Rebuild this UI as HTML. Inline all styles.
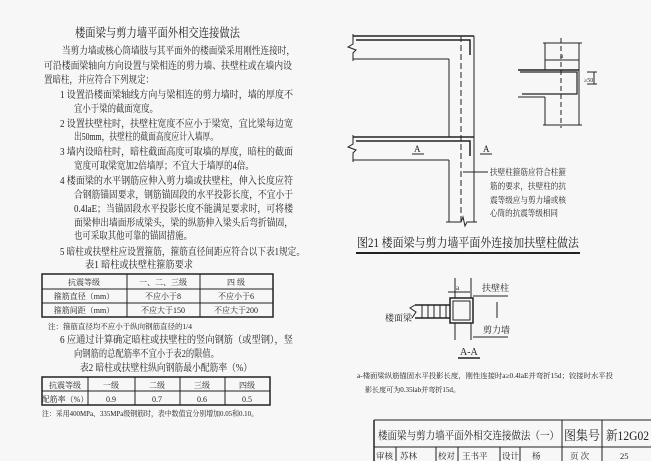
<!DOCTYPE html>
<html><head><meta charset="utf-8"><style>
html,body{margin:0;padding:0;background:#f7f7f7;}
svg{display:block;font-family:"Liberation Serif","Noto Serif CJK SC","Noto Sans CJK SC",serif;}
</style></head><body>
<svg width="651" height="461" viewBox="0 0 651 461" xmlns="http://www.w3.org/2000/svg">
<rect width="651" height="461" fill="#f7f7f7"/>
<g fill="#222" font-size="10" lengthAdjust="spacingAndGlyphs">
<text x="75" y="37" font-size="12.5" textLength="165" lengthAdjust="spacingAndGlyphs">楼面梁与剪力墙平面外相交连接做法</text>
<text x="62" y="54" textLength="233" lengthAdjust="spacingAndGlyphs">当剪力墙或核心筒墙肢与其平面外的楼面梁采用刚性连接时，</text>
<text x="44" y="69" textLength="248" lengthAdjust="spacingAndGlyphs">可沿楼面梁轴向方向设置与梁相连的剪力墙、扶壁柱或在墙内设</text>
<text x="44" y="83" textLength="110" lengthAdjust="spacingAndGlyphs">置暗柱，并应符合下列规定：</text>
<text x="60" y="98" textLength="233" lengthAdjust="spacingAndGlyphs">1  设置沿楼面梁轴线方向与梁相连的剪力墙时，墙的厚度不</text>
<text x="74" y="112" textLength="84" lengthAdjust="spacingAndGlyphs">宜小于梁的截面宽度。</text>
<text x="60" y="127" textLength="233" lengthAdjust="spacingAndGlyphs">2  设置扶壁柱时，扶壁柱宽度不应小于梁宽，宜比梁每边宽</text>
<text x="74" y="140" textLength="144" lengthAdjust="spacingAndGlyphs">出50mm，扶壁柱的截面高度应计入墙厚。</text>
<text x="60" y="155" textLength="233" lengthAdjust="spacingAndGlyphs">3  墙内设暗柱时，暗柱截面高度可取墙的厚度，暗柱的截面</text>
<text x="74" y="169" textLength="180" lengthAdjust="spacingAndGlyphs">宽度可取梁宽加2倍墙厚；不宜大于墙厚的4倍。</text>
<text x="60" y="184" textLength="233" lengthAdjust="spacingAndGlyphs">4  楼面梁的水平钢筋应伸入剪力墙或扶壁柱，伸入长度应符</text>
<text x="74" y="198" textLength="219" lengthAdjust="spacingAndGlyphs">合钢筋锚固要求，钢筋锚固段的水平投影长度，不宜小于</text>
<text x="74" y="212" textLength="219" lengthAdjust="spacingAndGlyphs">0.4laE；当锚固段水平投影长度不能满足要求时，可将楼</text>
<text x="74" y="226" textLength="219" lengthAdjust="spacingAndGlyphs">面梁伸出墙面形成梁头，梁的纵筋伸入梁头后弯折锚固，</text>
<text x="74" y="239" textLength="118" lengthAdjust="spacingAndGlyphs">也可采取其他可靠的锚固措施。</text>
<text x="60" y="255" textLength="245" lengthAdjust="spacingAndGlyphs">5  暗柱或扶壁柱应设置箍筋，箍筋直径间距应符合以下表1规定。</text>
<text x="85" y="268" textLength="108" lengthAdjust="spacingAndGlyphs">表1  暗柱或扶壁柱箍筋要求</text>
</g>
<g stroke="#222" fill="none">
<rect x="42" y="274" width="231" height="43" stroke-width="1.5"/>
<line x1="42" y1="289" x2="273" y2="289"/><line x1="42" y1="303" x2="273" y2="303"/>
<line x1="127" y1="274" x2="127" y2="317"/><line x1="200" y1="274" x2="200" y2="317"/>
<rect x="42" y="377" width="228" height="28" stroke-width="1.5"/>
<line x1="42" y1="391" x2="270" y2="391"/>
<line x1="88" y1="377" x2="88" y2="405"/><line x1="135" y1="377" x2="135" y2="405"/><line x1="180" y1="377" x2="180" y2="405"/><line x1="225" y1="377" x2="225" y2="405"/>
</g>
<g fill="#222" font-size="8" text-anchor="middle">
<text x="84" y="285">抗震等级</text><text x="163" y="285">一、二、三级</text><text x="236" y="285">四 级</text>
<text x="84" y="299">箍筋直径（mm）</text><text x="163" y="299">不应小于8</text><text x="236" y="299">不应小于6</text>
<text x="84" y="313">箍筋间距（mm）</text><text x="163" y="313">不应大于150</text><text x="236" y="313">不应大于200</text>
<text x="65" y="388">抗震等级</text><text x="111" y="388">一级</text><text x="157" y="388">二级</text><text x="202" y="388">三级</text><text x="247" y="388">四级</text>
<text x="65" y="402">配筋率（%）</text><text x="111" y="402">0.9</text><text x="157" y="402">0.7</text><text x="202" y="402">0.6</text><text x="247" y="402">0.5</text>
</g>
<g fill="#222" font-size="10">
<text x="48" y="329" font-size="7.5" textLength="144" lengthAdjust="spacingAndGlyphs">注：箍筋直径均不应小于纵向钢筋直径的1/4</text>
<text x="60" y="343" textLength="233" lengthAdjust="spacingAndGlyphs">6  应通过计算确定暗柱或扶壁柱的竖向钢筋（或型钢），竖</text>
<text x="74" y="357" textLength="145" lengthAdjust="spacingAndGlyphs">向钢筋的总配筋率不宜小于表2的限值。</text>
<text x="80" y="371" textLength="172" lengthAdjust="spacingAndGlyphs">表2  暗柱或扶壁柱纵向钢筋最小配筋率（%）</text>
<text x="42" y="416" font-size="7.5" textLength="216" lengthAdjust="spacingAndGlyphs">注：采用400MPa、335MPa级钢筋时，表中数值宜分别增加0.05和0.10。</text>
</g>
<!-- Figure 21 -->
<g stroke="#222" fill="none" stroke-width="1">
<line x1="353" y1="36" x2="474" y2="36" stroke-width="1.5"/>
<line x1="353" y1="59" x2="449" y2="59"/>
<polyline points="353,34 353,44 348,47 356,50 353,53 353,61"/>
<line x1="449" y1="59" x2="449" y2="137"/>
<line x1="474" y1="36" x2="474" y2="222"/>
<line x1="353" y1="137" x2="474" y2="137" stroke-width="1.5"/>
<line x1="353" y1="160" x2="449" y2="160"/>
<polyline points="353,135 353,144 348,147 356,150 353,153 353,162"/>
<line x1="449" y1="160" x2="449" y2="222"/>
<line x1="461" y1="36" x2="461" y2="222" stroke-dasharray="6,3"/>
<polyline points="446,222 461,222 463,217 465,226 467,222 477,222"/>
<polyline points="356,40 470,40 470,55" stroke-width="1.5"/>
<polyline points="356,141 470,141 470,156" stroke-width="1.5"/>
<line x1="463" y1="172" x2="488" y2="172"/>
<line x1="412" y1="154" x2="424" y2="154"/><line x1="480" y1="154" x2="492" y2="154"/>
<line x1="543" y1="43" x2="582" y2="43"/><line x1="543" y1="125" x2="582" y2="125"/>
<line x1="545" y1="43" x2="545" y2="70"/><line x1="545" y1="97" x2="545" y2="125"/>
<line x1="579" y1="43" x2="579" y2="125"/>
<line x1="561" y1="38" x2="561" y2="128" stroke-dasharray="5,3"/>
<line x1="518" y1="70" x2="579" y2="70" stroke-width="1.5"/><line x1="518" y1="97" x2="545" y2="97"/>
<polyline points="520,72 577,72 577,94 522,94" stroke-width="1.2"/>
<line x1="545" y1="60" x2="579" y2="60"/>
<line x1="587" y1="72" x2="597" y2="72"/><line x1="587" y1="84" x2="597" y2="84"/><line x1="594" y1="72" x2="594" y2="84"/>
<line x1="356" y1="253" x2="580" y2="253" stroke-width="2"/>
</g>
<g fill="#222">
<text x="414" y="152" font-size="9">A</text><text x="483" y="152" font-size="9">A</text>
<text x="560" y="58" font-size="7">a</text><text x="584" y="82" font-size="6">≥50</text>
<text x="490" y="175" font-size="8.5" textLength="76" lengthAdjust="spacingAndGlyphs">扶壁柱箍筋应符合柱箍</text>
<text x="490" y="189" font-size="8.5" textLength="76" lengthAdjust="spacingAndGlyphs">筋的要求，扶壁柱的抗</text>
<text x="490" y="203" font-size="8.5" textLength="76" lengthAdjust="spacingAndGlyphs">震等级应与剪力墙或核</text>
<text x="490" y="216" font-size="8.5" textLength="68" lengthAdjust="spacingAndGlyphs">心筒的抗震等级相同</text>
<text x="357" y="247" font-size="12.5" textLength="222" lengthAdjust="spacingAndGlyphs">图21 楼面梁与剪力墙平面外连接加扶壁柱做法</text>
</g>
<!-- A-A section -->
<g stroke="#222" fill="none">
<line x1="455" y1="278" x2="455" y2="298"/><line x1="471" y1="278" x2="471" y2="298"/>
<line x1="455" y1="323" x2="455" y2="340"/><line x1="471" y1="323" x2="471" y2="340"/>
<rect x="450" y="298" width="23" height="25" stroke-width="1.5"/>
<rect x="453" y="301" width="17" height="19"/>
<line x1="415" y1="305" x2="450" y2="305" stroke-width="1.5"/><line x1="415" y1="318" x2="450" y2="318" stroke-width="1.5"/>
<line x1="422" y1="305" x2="422" y2="318"/><line x1="428" y1="305" x2="428" y2="318"/><line x1="434" y1="305" x2="434" y2="318"/><line x1="440" y1="305" x2="440" y2="318"/><line x1="446" y1="305" x2="446" y2="318"/>
<polyline points="415,305 410,308 416,312 412,318"/>
<line x1="473" y1="296" x2="508" y2="296"/><line x1="473" y1="337" x2="508" y2="337"/>
<line x1="448" y1="292" x2="470" y2="292"/>
<line x1="497" y1="302" x2="497" y2="318"/>
<line x1="458" y1="358" x2="480" y2="358" stroke-width="1.5"/>
</g>
<g fill="#222">
<text x="482" y="291" font-size="9">扶壁柱</text>
<text x="483" y="333" font-size="9">剪力墙</text>
<text x="385" y="321" font-size="9">楼面梁</text>
<text x="456" y="290" font-size="7">a</text>
<text x="460" y="355" font-size="10">A-A</text>
<text x="357" y="378" font-size="7" textLength="256" lengthAdjust="spacingAndGlyphs">a-楼面梁纵筋锚固水平投影长度，刚性连接时a≥0.4laE并弯折15d；铰接时水平投</text>
<text x="365" y="392" font-size="7" textLength="95" lengthAdjust="spacingAndGlyphs">影长度可为0.35lab并弯折15d。</text>
</g>
<!-- title block -->
<g stroke="#222" fill="none">
<line x1="374" y1="420" x2="651" y2="420"/>
<line x1="374" y1="420" x2="374" y2="461" stroke-width="1.5"/>
<line x1="374" y1="447" x2="651" y2="447"/>
<line x1="562" y1="420" x2="562" y2="461"/><line x1="602" y1="420" x2="602" y2="461"/>
<line x1="396" y1="447" x2="396" y2="461"/><line x1="436" y1="447" x2="436" y2="461"/>
<line x1="458" y1="447" x2="458" y2="461"/><line x1="500" y1="447" x2="500" y2="461"/>
<line x1="520" y1="447" x2="520" y2="461"/>
</g>
<g fill="#222">
<text x="378" y="439" font-size="11" textLength="181" lengthAdjust="spacingAndGlyphs">楼面梁与剪力墙平面外相交连接做法（一）</text>
<text x="564" y="440" font-size="13" textLength="36" lengthAdjust="spacingAndGlyphs">图集号</text>
<text x="606" y="440" font-size="13" textLength="43" lengthAdjust="spacingAndGlyphs">新12G02</text>
<text x="376" y="459" font-size="8.5">审核</text><text x="400" y="459" font-size="8.5">苏林</text>
<text x="438" y="459" font-size="8.5">校对</text><text x="462" y="459" font-size="8.5">王书平</text>
<text x="502" y="459" font-size="8.5">设计</text><text x="532" y="459" font-size="8.5">杨</text>
<text x="570" y="459" font-size="8.5">页 次</text><text x="620" y="459" font-size="8.5">25</text>
</g>
</svg>
</body></html>
